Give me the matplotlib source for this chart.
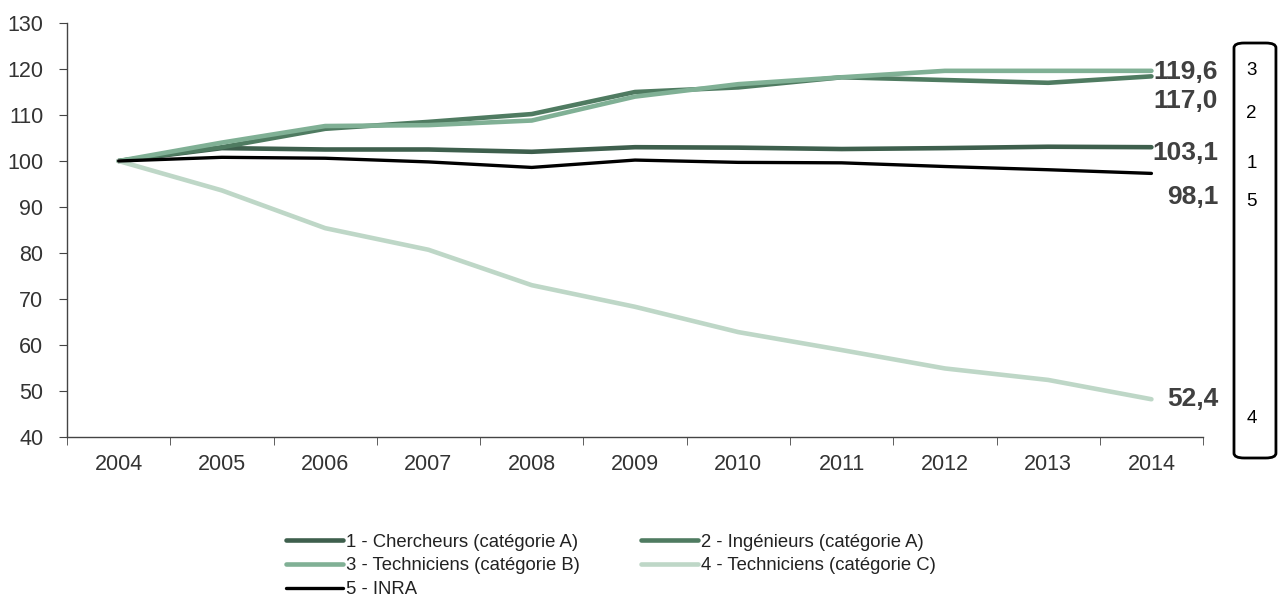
import matplotlib.pyplot as plt
from matplotlib.patches import FancyBboxPatch

plt.rcParams['font.family'] = ['Liberation Sans', 'DejaVu Sans']

# Données (indice base 100 en 2004)
annees = ['2004', '2005', '2006', '2007', '2008', '2009', '2010', '2011', '2012', '2013', '2014']
chercheurs = [100, 102.8, 102.5, 102.5, 102.0, 103.0, 102.9, 102.6, 102.8, 103.1, 103.0]
ingenieurs = [100, 103.0, 107.0, 108.5, 110.2, 115.0, 116.0, 118.2, 117.6, 117.0, 118.4]
techniciens_b = [100, 104.0, 107.6, 107.8, 108.8, 114.0, 116.7, 118.2, 119.6, 119.6, 119.6]
techniciens_c = [100, 93.6, 85.4, 80.7, 73.0, 68.3, 62.8, 58.9, 54.9, 52.4, 48.2]
inra = [100, 100.8, 100.6, 99.8, 98.6, 100.2, 99.7, 99.6, 98.8, 98.1, 97.3]

noms = ['1 - Chercheurs (catégorie A)', '2 - Ingénieurs (catégorie A)',
        '3 - Techniciens (catégorie B)', '4 - Techniciens (catégorie C)', '5 - INRA']
couleurs = ['#3e5f4d', '#4f7b61', '#80b095', '#bed7c7', '#000000']
series = [chercheurs, ingenieurs, techniciens_b, techniciens_c, inra]

# étiquettes de fin de courbe : texte, position y (en valeur), numéro de série
etiquettes = ['119,6', '117,0', '103,1', '98,1', '52,4']
etiq_y = [119.3, 113.0, 101.7, 92.2, 48.3]
numeros = ['3', '2', '1', '5', '4']
num_y = [119.6, 110.4, 99.4, 91.3, 44.1]

fig = plt.figure(figsize=(12.83, 5.99), dpi=100)
ax = fig.add_axes([0.0522, 0.2705, 0.8855, 0.6911])

x = list(range(len(annees)))
lignes = []
for vals, nom, c in zip(series, noms, couleurs):
    lw = 2.4 if c == '#000000' else 3.3
    l, = ax.plot(x, vals, color=c, lw=lw, label=nom, solid_capstyle='round')
    lignes.append(l)

ax.set_xlim(-0.5, 10.5)
ax.set_ylim(40, 130)
ax.set_yticks(range(40, 131, 10))
ax.set_xticks(x)
ax.set_xticklabels(annees)
ax.set_xticks([i - 0.5 for i in range(12)], minor=True)
ax.tick_params(axis='x', which='major', length=0, pad=12, labelsize=15.5, labelcolor='#333333')
ax.tick_params(axis='x', which='minor', length=6, color='#444444', direction='out')
ax.tick_params(axis='y', length=6, color='#444444', labelsize=15.5, labelcolor='#333333', pad=11)
for s in ['top', 'right']:
    ax.spines[s].set_visible(False)
for s in ['left', 'bottom']:
    ax.spines[s].set_color('#444444')
    ax.spines[s].set_linewidth(1.0)

# valeurs en gras à droite des courbes
for txt, yv in zip(etiquettes, etiq_y):
    ax.text(10.645, yv, txt, ha='right', va='center', fontsize=19, fontweight='bold',
            color='#404040', clip_on=False)

# encadré avec les numéros
box = FancyBboxPatch((0.9618, 0.2354), 0.0327, 0.6928, boxstyle='round,pad=0,rounding_size=0.008',
                     transform=fig.transFigure, fill=False, ec='black', lw=2)
fig.patches.append(box)
for n, yv in zip(numeros, num_y):
    yfig = fig.transFigure.inverted().transform(ax.transData.transform((0, yv)))[1]
    fig.text(0.9756, yfig, n, ha='center', va='center', fontsize=13.5, color='black')

ordre = [0, 2, 4, 1, 3]
fig.legend([lignes[i] for i in ordre], [noms[i] for i in ordre], ncol=2,
           loc='upper left', bbox_to_anchor=(0.2158, 0.1247), frameon=False,
           fontsize=13.3, handlelength=3.1, handletextpad=0.15, columnspacing=3.3,
           labelspacing=0.37, borderpad=0, labelcolor='#222222')

fig.savefig('out.png', dpi=100)
